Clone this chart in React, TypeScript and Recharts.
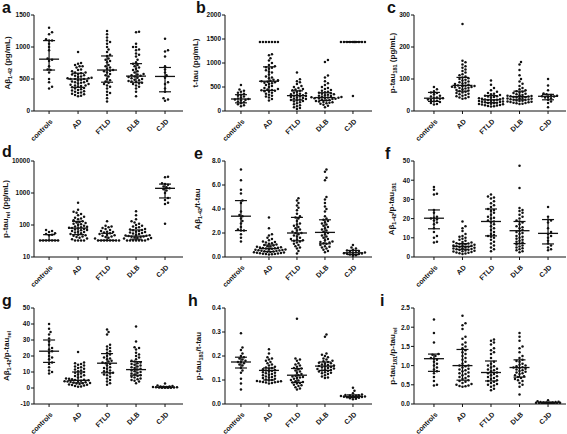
import { ReferenceLine, Scatter, ScatterChart, XAxis, YAxis } from 'recharts'

const categories = ['controls', 'AD', 'FTLD', 'DLB', 'CJD']

// a: Aβ1-42 (pg/mL)
const aValues = [
  [1300, 1230, 1200, 1120, 1100, 1100, 1050, 1000, 950, 820, 800, 780, 700, 650, 640, 600, 500, 450, 380, 350],
  [920, 750, 740, 720, 700, 700, 680, 650, 640, 620, 600, 600, 590, 580, 570, 560, 550, 540, 530, 520, 510, 510, 500, 500, 500, 490, 480, 470, 460, 450, 450, 440, 430, 420, 410, 400, 400, 390, 380, 370, 360, 350, 340, 330, 320, 310, 300, 290, 280, 270, 260, 250, 240, 230],
  [1250, 1200, 1150, 1100, 1080, 1050, 1000, 960, 920, 880, 860, 820, 800, 780, 760, 720, 700, 680, 660, 640, 630, 620, 600, 580, 560, 540, 500, 480, 460, 440, 420, 400, 380, 350, 300, 280, 250, 200, 150],
  [1240, 1230, 1050, 1000, 1000, 960, 950, 900, 880, 850, 800, 760, 740, 720, 700, 680, 660, 640, 620, 600, 580, 570, 560, 550, 540, 530, 520, 510, 500, 490, 480, 470, 460, 450, 440, 430, 420, 400, 380, 350, 300, 230],
  [1130, 950, 930, 850, 700, 650, 600, 560, 520, 450, 420, 350, 300, 200, 180, 160]
]
const aMedian = [810, 500, 640, 545, 540]
const aQ1 = [640, 370, 450, 450, 300]
const aQ3 = [1100, 590, 860, 740, 680]
const aTicks = [0, 500, 1000, 1500]

// b: t-tau (pg/mL)
const bValues = [
  [540, 450, 420, 400, 380, 360, 340, 320, 300, 280, 260, 250, 240, 230, 220, 200, 180, 160, 140, 120, 100],
  [1440, 1440, 1440, 1440, 1440, 1440, 1440, 1180, 1160, 1100, 1050, 1000, 960, 930, 910, 900, 880, 850, 820, 800, 760, 720, 700, 680, 650, 640, 630, 620, 610, 600, 590, 580, 560, 540, 520, 500, 480, 460, 450, 440, 430, 420, 410, 400, 380, 360, 340, 320, 300, 280, 250, 220],
  [800, 660, 620, 600, 560, 520, 500, 480, 460, 450, 430, 420, 400, 380, 370, 360, 350, 340, 330, 320, 310, 300, 290, 280, 270, 260, 250, 240, 230, 220, 210, 200, 180, 160, 140, 120, 100, 80, 60, 40],
  [1060, 1020, 740, 700, 620, 580, 540, 500, 480, 460, 440, 420, 400, 390, 380, 370, 360, 350, 340, 330, 320, 310, 300, 290, 285, 280, 275, 270, 265, 260, 255, 250, 240, 230, 220, 210, 200, 190, 180, 170, 160, 150, 130, 110, 80],
  [1440, 1440, 1440, 1440, 1440, 1440, 1440, 1440, 1440, 1440, 310]
]
const bMedian = [250, 620, 320, 280, 1440]
const bQ1 = [170, 430, 230, 220, 1440]
const bQ3 = [340, 920, 420, 380, 1440]
const bTicks = [0, 500, 1000, 1500, 2000]

// c: p-tau181 (pg/mL)
const cValues = [
  [75, 68, 62, 58, 56, 52, 48, 45, 42, 40, 40, 38, 36, 34, 32, 30, 28, 25, 22, 20],
  [272, 157, 152, 145, 140, 135, 130, 125, 120, 115, 112, 108, 105, 102, 100, 98, 95, 92, 90, 88, 86, 84, 82, 80, 79, 78, 77, 76, 75, 74, 73, 72, 70, 68, 66, 64, 62, 60, 58, 56, 54, 52, 50, 48, 46, 44, 42, 40, 38],
  [95, 82, 72, 65, 60, 56, 54, 52, 50, 48, 46, 45, 44, 42, 40, 39, 38, 37, 36, 35, 34, 33, 32, 31, 30, 29, 28, 27, 26, 25, 24, 23, 22, 21, 20, 19, 18, 17, 16, 15, 14],
  [153, 145, 128, 112, 100, 92, 85, 78, 72, 68, 65, 62, 60, 58, 56, 54, 52, 50, 49, 48, 47, 46, 45, 44, 43, 42, 41, 40, 39, 38, 37, 36, 35, 34, 33, 32, 31, 30, 29, 28, 27, 26, 25, 24, 23, 22],
  [100, 80, 65, 55, 52, 50, 48, 46, 45, 44, 42, 40, 35, 30, 25, 12]
]
const cMedian = [40, 80, 35, 45, 46]
const cQ1 = [30, 62, 26, 35, 35]
const cQ3 = [58, 105, 48, 62, 52]
const cTicks = [0, 100, 200, 300]

// d: p-tau rel (pg/mL), log axis; 33 is the lower detection limit
const dValues = [
  [70, 65, 60, 55, 52, 50, 48, 33, 33, 33, 33, 33, 33, 33],
  [500, 300, 260, 240, 220, 200, 180, 170, 160, 150, 140, 130, 125, 120, 115, 110, 105, 100, 95, 90, 88, 85, 82, 80, 78, 75, 72, 70, 68, 65, 62, 60, 58, 55, 52, 50, 48, 46, 44, 42, 40, 38, 36, 33, 33, 33, 33],
  [130, 95, 90, 85, 80, 75, 70, 65, 62, 60, 58, 55, 52, 50, 48, 46, 44, 42, 40, 38, 33, 33, 33, 33, 33, 33, 33, 33],
  [270, 200, 150, 130, 120, 110, 100, 95, 90, 85, 80, 75, 72, 70, 68, 65, 62, 60, 58, 56, 54, 52, 50, 48, 47, 46, 45, 44, 43, 42, 41, 40, 39, 38, 36, 33, 33, 33, 33, 33, 33, 33],
  [3200, 3100, 2000, 1900, 1800, 1600, 1500, 1400, 1300, 1200, 1000, 700, 600, 500, 450, 110]
]
const dMedian = [33, 80, 33, 45, 1400]
const dQ1 = [33, 50, 33, 36, 700]
const dQ3 = [50, 130, 55, 70, 1900]
const dTicks = [10, 100, 1000, 10000]

// e: Aβ1-42/t-tau
const eValues = [
  [7.3, 6.4, 5.6, 5.3, 4.7, 4.5, 3.8, 3.5, 3.4, 3.2, 3.0, 2.8, 2.5, 2.3, 2.2, 2.2, 1.9, 1.6, 1.3],
  [3.3, 2.4, 1.9, 1.8, 1.6, 1.5, 1.4, 1.3, 1.25, 1.2, 1.15, 1.1, 1.05, 1.0, 0.95, 0.9, 0.88, 0.85, 0.82, 0.8, 0.78, 0.75, 0.72, 0.7, 0.68, 0.65, 0.62, 0.6, 0.58, 0.56, 0.54, 0.52, 0.5, 0.48, 0.46, 0.44, 0.42, 0.4, 0.38, 0.36, 0.34, 0.32, 0.3, 0.28, 0.26, 0.24, 0.22, 0.2],
  [4.9, 4.7, 4.5, 4.3, 4.1, 3.9, 3.6, 3.4, 3.3, 3.2, 3.0, 2.8, 2.7, 2.6, 2.5, 2.4, 2.3, 2.2, 2.1, 2.0, 2.0, 1.9, 1.8, 1.7, 1.6, 1.5, 1.45, 1.4, 1.35, 1.3, 1.2, 1.1, 1.0, 0.9, 0.8, 0.7, 0.5, 0.3],
  [7.3, 7.1, 6.6, 6.4, 5.0, 4.8, 4.5, 4.2, 4.0, 3.8, 3.4, 3.2, 3.1, 3.0, 2.9, 2.8, 2.7, 2.6, 2.5, 2.4, 2.3, 2.2, 2.1, 2.0, 1.9, 1.8, 1.7, 1.6, 1.5, 1.4, 1.3, 1.25, 1.2, 1.15, 1.1, 1.0, 0.9, 0.85, 0.8, 0.7, 0.6, 0.5, 0.4],
  [1.0, 0.8, 0.7, 0.6, 0.55, 0.5, 0.45, 0.4, 0.38, 0.35, 0.32, 0.3, 0.28, 0.25, 0.2, 0.15, 0.1]
]
const eMedian = [3.4, 0.7, 2.0, 2.05, 0.35]
const eQ1 = [2.2, 0.45, 1.35, 1.1, 0.2]
const eQ3 = [4.7, 1.0, 3.3, 3.1, 0.55]
const eTicks = [0, 2, 4, 6, 8]

// f: Aβ1-42/p-tau181
const fValues = [
  [36.5, 35, 33, 32.5, 24.5, 23, 21, 20.5, 20, 19.5, 19, 18, 17, 15, 13, 11, 10, 8, 7.5],
  [18.5, 16, 15, 13.5, 12, 11, 10.5, 10, 9.5, 9, 8.5, 8, 7.8, 7.5, 7.2, 7, 6.8, 6.6, 6.4, 6.2, 6, 5.8, 5.6, 5.4, 5.2, 5, 4.8, 4.6, 4.4, 4.2, 4, 3.8, 3.6, 3.4, 3.2, 3, 2.8, 2.6, 2.4, 2.2, 2, 1.8, 1.5],
  [32.5, 31.5, 31, 30.5, 29, 28, 27, 26, 25, 24.5, 24, 23, 22, 21, 20.5, 20, 19, 18.5, 18, 17, 16, 15, 14, 13, 12, 11.5, 11, 10.5, 10, 9, 8, 7, 6, 5, 4, 3],
  [47.5, 36, 25.5, 24.5, 24, 23, 22, 21, 20, 19, 18.5, 18, 17, 16, 15.5, 15, 14, 13.5, 13, 12.5, 12, 11, 10.5, 10, 9.5, 9, 8.5, 8, 7.5, 7, 6.5, 6, 5.5, 5, 4.5, 4, 3.5, 3, 2.5],
  [26, 21, 19.5, 19, 18, 15, 13, 12, 11, 10, 8.5, 7, 6, 5, 4, 3.5]
]
const fMedian = [20.2, 5.5, 18.5, 13.7, 12.3]
const fQ1 = [14.7, 4, 11, 7, 6.8]
const fQ3 = [24.5, 7, 25, 18.5, 19.5]
const fTicks = [0, 10, 20, 30, 40, 50]

// g: Aβ1-42/p-tau rel
const gValues = [
  [40, 37, 35, 33.5, 31, 29, 27, 25, 24, 23, 22, 20, 19, 18, 16, 15, 13, 11, 10, 9],
  [22.5, 16, 15.5, 15, 14.5, 14, 13.5, 13, 12.5, 12, 11.5, 11, 10.5, 10, 9.5, 9, 8.5, 8, 7.5, 7, 6.5, 6, 5.8, 5.5, 5.2, 5, 4.8, 4.6, 4.4, 4.2, 4, 3.8, 3.6, 3.4, 3.2, 3, 2.8, 2.5, 2.2, 2, 1.8, 1.5, 1.2, 1, 0.8],
  [36.5, 35, 33.5, 27, 26, 25, 24, 23, 22, 21, 20, 19, 18.5, 18, 17, 16.5, 16, 15.5, 15, 14, 13, 12.5, 12, 11, 10.5, 10, 9.5, 9, 8.5, 8, 7, 6, 5, 4, 3, 2],
  [38.5, 29, 25.5, 25, 24, 22, 21, 20, 19, 18, 17, 16.5, 16, 15.5, 15, 14.5, 14, 13.5, 13, 12.5, 12, 11.5, 11, 10.5, 10, 9.5, 9, 8.5, 8, 7.5, 7, 6.5, 6, 5.5, 5, 4.5, 4, 3],
  [2.8, 1.5, 1.2, 1, 0.9, 0.8, 0.7, 0.6, 0.5, 0.4, 0.3, 0.3, 0.2, 0.2, 0.1, 0.1]
]
const gMedian = [23, 4.8, 15.5, 11.5, 0.4]
const gQ1 = [16, 3.2, 9.5, 8, 0.2]
const gQ3 = [30, 10, 21.5, 16.5, 0.9]
const gTicks = [-10, 0, 10, 20, 30, 40, 50]

// h: p-tau181/t-tau
const hValues = [
  [0.295, 0.235, 0.225, 0.21, 0.2, 0.195, 0.19, 0.185, 0.18, 0.175, 0.175, 0.17, 0.165, 0.16, 0.15, 0.14, 0.13, 0.105, 0.085, 0.06],
  [0.228, 0.21, 0.195, 0.19, 0.185, 0.18, 0.175, 0.17, 0.165, 0.16, 0.155, 0.152, 0.15, 0.148, 0.145, 0.142, 0.14, 0.138, 0.135, 0.132, 0.13, 0.128, 0.125, 0.122, 0.12, 0.118, 0.115, 0.112, 0.11, 0.108, 0.105, 0.102, 0.1, 0.098, 0.096, 0.095, 0.094, 0.093, 0.092, 0.091, 0.09, 0.088, 0.085],
  [0.355, 0.19, 0.185, 0.18, 0.17, 0.165, 0.16, 0.155, 0.15, 0.148, 0.145, 0.14, 0.135, 0.13, 0.125, 0.12, 0.118, 0.115, 0.112, 0.11, 0.108, 0.105, 0.1, 0.098, 0.095, 0.092, 0.09, 0.088, 0.085, 0.08, 0.078, 0.075, 0.07, 0.065, 0.06],
  [0.29, 0.28, 0.21, 0.205, 0.2, 0.195, 0.19, 0.185, 0.18, 0.178, 0.175, 0.172, 0.17, 0.168, 0.165, 0.162, 0.16, 0.158, 0.156, 0.154, 0.152, 0.15, 0.148, 0.146, 0.144, 0.142, 0.14, 0.138, 0.135, 0.132, 0.13, 0.128, 0.125, 0.12, 0.115, 0.11, 0.108],
  [0.068, 0.055, 0.045, 0.04, 0.038, 0.036, 0.035, 0.034, 0.033, 0.032, 0.031, 0.03, 0.029, 0.028, 0.026, 0.024, 0.022, 0.02]
]
const hMedian = [0.175, 0.14, 0.12, 0.158, 0.032]
const hQ1 = [0.15, 0.1, 0.09, 0.14, 0.027]
const hQ3 = [0.195, 0.15, 0.148, 0.175, 0.038]
const hTicks = [0, 0.1, 0.2, 0.3, 0.4]

// i: p-tau181/p-tau rel
const iValues = [
  [2.2, 1.85, 1.6, 1.3, 1.28, 1.25, 1.2, 1.18, 1.15, 1.1, 1.05, 1.0, 0.95, 0.9, 0.85, 0.8, 0.7, 0.6, 0.5, 0.48],
  [2.3, 2.1, 2.05, 1.95, 1.75, 1.7, 1.6, 1.55, 1.5, 1.45, 1.4, 1.35, 1.3, 1.25, 1.2, 1.15, 1.1, 1.05, 1.0, 1.0, 0.98, 0.95, 0.92, 0.9, 0.88, 0.85, 0.82, 0.8, 0.78, 0.75, 0.72, 0.7, 0.68, 0.65, 0.62, 0.6, 0.58, 0.55, 0.52, 0.5, 0.48, 0.47, 0.46, 0.45],
  [1.68, 1.65, 1.6, 1.55, 1.45, 1.4, 1.35, 1.3, 1.2, 1.1, 1.05, 1.0, 0.98, 0.95, 0.92, 0.9, 0.88, 0.85, 0.82, 0.8, 0.78, 0.75, 0.72, 0.7, 0.68, 0.65, 0.62, 0.6, 0.58, 0.55, 0.52, 0.5, 0.48, 0.45, 0.4, 0.36],
  [1.85, 1.75, 1.65, 1.5, 1.45, 1.35, 1.25, 1.2, 1.15, 1.12, 1.1, 1.05, 1.02, 1.0, 0.98, 0.96, 0.95, 0.94, 0.92, 0.9, 0.88, 0.86, 0.84, 0.82, 0.8, 0.78, 0.75, 0.72, 0.7, 0.68, 0.65, 0.62, 0.6, 0.55, 0.5, 0.45, 0.25],
  [0.1, 0.07, 0.06, 0.05, 0.05, 0.04, 0.04, 0.04, 0.03, 0.03, 0.03, 0.03, 0.02, 0.02, 0.02, 0.01, 0.01, 0.01]
]
const iMedian = [1.18, 1.0, 0.82, 0.95, 0.03]
const iQ1 = [0.85, 0.62, 0.6, 0.7, 0.02]
const iQ3 = [1.3, 1.42, 1.12, 1.15, 0.05]
const iTicks = [0, 0.5, 1, 1.5, 2, 2.5]

const FONT = '"Liberation Sans", Arial, sans-serif'
const INK = '#111'
const PLOT_H = 96
const TOP_PAD = 6
const ROW_TOP = [15, 161, 308]
const COLS = [
  { left: 0, yw: 34, w: 149, lo: 0.48, hi: 5.62 },
  { left: 185, yw: 40, w: 147, lo: 0.43, hi: 5.68 },
  { left: 375, yw: 39, w: 152, lo: 0.3, hi: 5.63 }
]
const DOT_GAP = 2.8
// widest sideways spread (px either side) per group before dots start to overlap
const HALF_SPREAD = [18, 18, 18, 18, 12]

type Part = [string, boolean]
type Panel = {
  letter: string
  letterPos: [number, number]
  label: Part[]
  labelOff: number
  values: number[][]
  median: number[]
  q1: number[]
  q3: number[]
  ticks: number[]
  log?: boolean
  decimals?: number
  row: number
  col: number
}

const panels: Panel[] = [
  { letter: 'a', letterPos: [2, 14], label: [['Aβ', false], ['1-42', true], [' (pg/mL)', false]], labelOff: 24, values: aValues, median: aMedian, q1: aQ1, q3: aQ3, ticks: aTicks, row: 0, col: 0 },
  { letter: 'b', letterPos: [196, 14], label: [['t-tau (pg/mL)', false]], labelOff: 27, values: bValues, median: bMedian, q1: bQ1, q3: bQ3, ticks: bTicks, row: 0, col: 1 },
  { letter: 'c', letterPos: [387, 14], label: [['p-tau', false], ['181', true], [' (pg/mL)', false]], labelOff: 19, values: cValues, median: cMedian, q1: cQ1, q3: cQ3, ticks: cTicks, row: 0, col: 2 },
  { letter: 'd', letterPos: [2, 158], label: [['p-tau', false], ['rel', true], [' (pg/mL)', false]], labelOff: 26, values: dValues, median: dMedian, q1: dQ1, q3: dQ3, ticks: dTicks, log: true, row: 1, col: 0 },
  { letter: 'e', letterPos: [194, 160], label: [['Aβ', false], ['1-42', true], ['/t-tau', false]], labelOff: 25, values: eValues, median: eMedian, q1: eQ1, q3: eQ3, ticks: eTicks, decimals: 1, row: 1, col: 1 },
  { letter: 'f', letterPos: [385, 160], label: [['Aβ', false], ['1-42', true], ['/p-tau', false], ['181', true]], labelOff: 20, values: fValues, median: fMedian, q1: fQ1, q3: fQ3, ticks: fTicks, row: 1, col: 2 },
  { letter: 'g', letterPos: [2, 307], label: [['Aβ', false], ['1-42', true], ['/p-tau', false], ['rel', true]], labelOff: 25, values: gValues, median: gMedian, q1: gQ1, q3: gQ3, ticks: gTicks, row: 2, col: 0 },
  { letter: 'h', letterPos: [188, 307], label: [['p-tau', false], ['181', true], ['/t-tau', false]], labelOff: 24, values: hValues, median: hMedian, q1: hQ1, q3: hQ3, ticks: hTicks, decimals: 1, row: 2, col: 1 },
  { letter: 'i', letterPos: [380, 307], label: [['p-tau', false], ['181', true], ['/p-tau', false], ['rel', true]], labelOff: 19, values: iValues, median: iMedian, q1: iQ1, q3: iQ3, ticks: iTicks, decimals: 1, row: 2, col: 2 }
]

// beeswarm: each dot takes the free sideways slot nearest the centre line;
// once the row is full it goes to the least crowded slot
function swarm(vals: number[], cat: number, toPx: (v: number) => number, unitPx: number, half: number) {
  const placed: { px: number; py: number }[] = []
  const out: { x: number; y: number }[] = []
  const sorted = [...vals].sort((a, b) => a - b)
  const maxK = Math.floor(half / 1.5)
  for (const v of sorted) {
    const py = toPx(v)
    let best = 0
    let bestGap = -1
    for (let n = 0; n <= maxK * 2; n++) {
      const k = n === 0 ? 0 : n % 2 ? (n + 1) / 2 : -n / 2
      const px = k * 1.5
      const gap = placed.reduce((m, q) => Math.min(m, (q.px - px) ** 2 + (q.py - py) ** 2), Infinity)
      if (gap >= DOT_GAP * DOT_GAP) {
        best = px
        break
      }
      if (gap > bestGap) {
        bestGap = gap
        best = px
      }
    }
    placed.push({ px: best, py })
    out.push({ x: cat + best / unitPx, y: v })
  }
  return out
}

const Dot = (props: any) => <circle cx={props.cx} cy={props.cy} r={1.25} fill={INK} />

const CatTick = (props: any) => {
  const { x, y, payload } = props
  return (
    <text
      transform={`translate(${x + 4},${y + 6}) rotate(-45)`}
      textAnchor="end"
      fontSize={7}
      fontWeight="bold"
      fontFamily={FONT}
      fill={INK}
      style={{ fill: INK }}
    >
      {categories[payload.value - 1]}
    </text>
  )
}

function PanelChart({ p }: { p: Panel }) {
  const col = COLS[p.col]
  const top = ROW_TOP[p.row]
  const lo = p.ticks[0]
  const hi = p.ticks[p.ticks.length - 1]
  const toPx = p.log
    ? (v: number) => ((Math.log10(v) - Math.log10(lo)) / (Math.log10(hi) - Math.log10(lo))) * PLOT_H
    : (v: number) => ((v - lo) / (hi - lo)) * PLOT_H
  const unitPx = col.w / (col.hi - col.lo)
  const points = p.values.flatMap((vals, i) => swarm(vals, i + 1, toPx, unitPx, HALF_SPREAD[i]))
  const wide = 10 / unitPx
  const cap = 6 / unitPx
  const labelX = col.yw - p.labelOff
  const labelY = TOP_PAD + PLOT_H / 2
  const fmt = (v: number) => (p.decimals ? v.toFixed(p.decimals) : String(v))

  const renderLabel = () => (
    <text
      transform={`translate(${labelX},${labelY}) rotate(-90)`}
      textAnchor="middle"
      fontSize={8}
      fontWeight="bold"
      fontFamily={FONT}
      fill={INK}
    >
      {p.label.map(([t, sub], k) => (
        <tspan key={k} fontSize={sub ? 5.5 : 8} dy={sub ? 1.8 : k > 0 && p.label[k - 1][1] ? -1.8 : 0}>
          {t}
        </tspan>
      ))}
    </text>
  )

  return (
    <div style={{ position: 'absolute', left: col.left, top: top - TOP_PAD }}>
      <ScatterChart
        width={col.yw + col.w + 2}
        height={TOP_PAD + PLOT_H + 40}
        margin={{ top: TOP_PAD, right: 2, bottom: 0, left: 0 }}
      >
        <XAxis
          type="number"
          dataKey="x"
          domain={[col.lo, col.hi]}
          ticks={[1, 2, 3, 4, 5]}
          interval={0}
          allowDataOverflow
          height={40}
          tick={<CatTick />}
          tickSize={3}
          stroke={INK}
        />
        <YAxis
          type="number"
          dataKey="y"
          scale={p.log ? 'log' : 'linear'}
          domain={[lo, hi]}
          ticks={p.ticks}
          interval={0}
          allowDataOverflow
          width={col.yw}
          tickFormatter={fmt}
          tick={{ fontSize: 6.5, fontWeight: 'bold', fill: INK, fontFamily: FONT }}
          tickSize={3}
          tickMargin={1}
          stroke={INK}
          label={{ content: renderLabel }}
        />
        <Scatter data={points} isAnimationActive={false} shape={Dot} />
        {p.median.map((m, i) => (
          <ReferenceLine
            key={`m${i}`}
            segment={[{ x: i + 1 - wide, y: m }, { x: i + 1 + wide, y: m }]}
            stroke={INK}
            strokeWidth={1.3}
            ifOverflow="visible"
          />
        ))}
        {p.q1.map((q, i) => (
          <ReferenceLine
            key={`v${i}`}
            segment={[{ x: i + 1, y: q }, { x: i + 1, y: p.q3[i] }]}
            stroke={INK}
            strokeWidth={1.2}
            ifOverflow="visible"
          />
        ))}
        {p.q1.map((q, i) => (
          <ReferenceLine
            key={`l${i}`}
            segment={[{ x: i + 1 - cap, y: q }, { x: i + 1 + cap, y: q }]}
            stroke={INK}
            strokeWidth={1.2}
            ifOverflow="visible"
          />
        ))}
        {p.q3.map((q, i) => (
          <ReferenceLine
            key={`u${i}`}
            segment={[{ x: i + 1 - cap, y: q }, { x: i + 1 + cap, y: q }]}
            stroke={INK}
            strokeWidth={1.2}
            ifOverflow="visible"
          />
        ))}
      </ScatterChart>
    </div>
  )
}

export default function App() {
  return (
    <div style={{ position: 'absolute', left: 0, top: 0, width: 567, height: 434, background: '#fff' }}>
      {panels.map((p) => (
        <PanelChart key={p.letter} p={p} />
      ))}
      {panels.map((p) => (
        <div
          key={`t${p.letter}`}
          style={{
            position: 'absolute',
            left: p.letterPos[0],
            top: p.letterPos[1] - 14,
            fontFamily: FONT,
            fontWeight: 'bold',
            fontSize: 16,
            lineHeight: '16px',
            color: INK
          }}
        >
          {p.letter}
        </div>
      ))}
    </div>
  )
}
